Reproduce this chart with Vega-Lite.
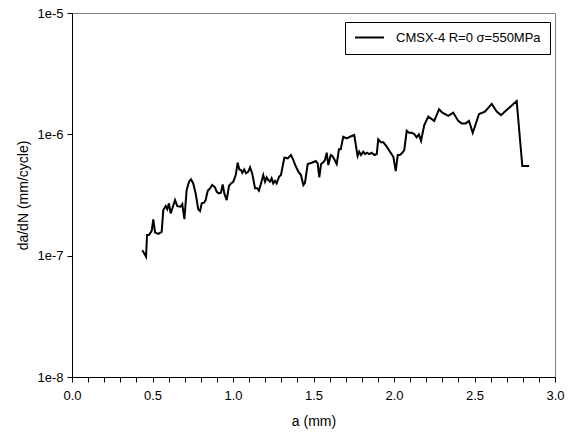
{
  "$schema": "https://vega.github.io/schema/vega-lite/v6.json",
  "autosize": {"type": "none"},
  "width": 483,
  "height": 364,
  "padding": {"left": 72, "top": 13, "right": 15, "bottom": 58},
  "background": "white",
  "config": {
    "font": "Liberation Sans",
    "view": {"stroke": "#808080", "strokeWidth": 1},
    "axis": {"labelFont": "Liberation Sans", "titleFont": "Liberation Sans", "labelColor": "black", "titleColor": "black", "domainColor": "black", "tickColor": "black", "titleFontWeight": "normal", "grid": false}
  },
  "data": {"values": [
    {"a": 0.437, "dadN": 1.11e-7}, {"a": 0.460, "dadN": 9.8e-8}, {"a": 0.466, "dadN": 1.48e-7}, {"a": 0.478, "dadN": 1.48e-7},
    {"a": 0.495, "dadN": 1.60e-7}, {"a": 0.505, "dadN": 1.99e-7}, {"a": 0.516, "dadN": 1.55e-7}, {"a": 0.536, "dadN": 1.51e-7},
    {"a": 0.557, "dadN": 1.57e-7}, {"a": 0.567, "dadN": 2.38e-7}, {"a": 0.582, "dadN": 2.56e-7}, {"a": 0.592, "dadN": 2.41e-7},
    {"a": 0.602, "dadN": 2.70e-7}, {"a": 0.613, "dadN": 2.23e-7}, {"a": 0.623, "dadN": 2.45e-7}, {"a": 0.640, "dadN": 2.87e-7},
    {"a": 0.654, "dadN": 2.56e-7}, {"a": 0.675, "dadN": 2.53e-7}, {"a": 0.685, "dadN": 2.66e-7}, {"a": 0.698, "dadN": 2.00e-7},
    {"a": 0.712, "dadN": 3.47e-7}, {"a": 0.727, "dadN": 4.07e-7}, {"a": 0.739, "dadN": 4.26e-7}, {"a": 0.753, "dadN": 3.94e-7},
    {"a": 0.768, "dadN": 3.26e-7}, {"a": 0.784, "dadN": 2.41e-7}, {"a": 0.795, "dadN": 2.33e-7}, {"a": 0.806, "dadN": 2.70e-7},
    {"a": 0.820, "dadN": 2.73e-7}, {"a": 0.830, "dadN": 2.87e-7}, {"a": 0.843, "dadN": 3.43e-7}, {"a": 0.857, "dadN": 3.59e-7},
    {"a": 0.871, "dadN": 3.82e-7}, {"a": 0.888, "dadN": 3.66e-7}, {"a": 0.899, "dadN": 3.36e-7}, {"a": 0.913, "dadN": 3.26e-7},
    {"a": 0.925, "dadN": 3.30e-7}, {"a": 0.936, "dadN": 3.87e-7}, {"a": 0.946, "dadN": 3.26e-7}, {"a": 0.961, "dadN": 2.87e-7},
    {"a": 0.975, "dadN": 3.75e-7}, {"a": 0.988, "dadN": 3.94e-7}, {"a": 1.002, "dadN": 4.07e-7}, {"a": 1.017, "dadN": 4.62e-7},
    {"a": 1.029, "dadN": 5.83e-7}, {"a": 1.039, "dadN": 5.14e-7}, {"a": 1.050, "dadN": 5.08e-7}, {"a": 1.058, "dadN": 4.82e-7},
    {"a": 1.070, "dadN": 5.14e-7}, {"a": 1.081, "dadN": 4.77e-7}, {"a": 1.095, "dadN": 4.92e-7}, {"a": 1.106, "dadN": 5.35e-7},
    {"a": 1.120, "dadN": 4.71e-7}, {"a": 1.137, "dadN": 3.59e-7}, {"a": 1.151, "dadN": 3.59e-7}, {"a": 1.161, "dadN": 3.43e-7},
    {"a": 1.174, "dadN": 3.94e-7}, {"a": 1.188, "dadN": 4.62e-7}, {"a": 1.199, "dadN": 4.07e-7}, {"a": 1.209, "dadN": 4.42e-7},
    {"a": 1.219, "dadN": 4.20e-7}, {"a": 1.230, "dadN": 4.07e-7}, {"a": 1.240, "dadN": 4.34e-7}, {"a": 1.250, "dadN": 3.94e-7},
    {"a": 1.261, "dadN": 4.14e-7}, {"a": 1.271, "dadN": 3.94e-7}, {"a": 1.286, "dadN": 4.47e-7}, {"a": 1.298, "dadN": 4.62e-7},
    {"a": 1.319, "dadN": 6.41e-7}, {"a": 1.340, "dadN": 6.34e-7}, {"a": 1.360, "dadN": 6.75e-7}, {"a": 1.375, "dadN": 6.14e-7},
    {"a": 1.389, "dadN": 5.48e-7}, {"a": 1.406, "dadN": 4.92e-7}, {"a": 1.422, "dadN": 4.62e-7}, {"a": 1.437, "dadN": 3.82e-7},
    {"a": 1.447, "dadN": 3.99e-7}, {"a": 1.464, "dadN": 5.69e-7}, {"a": 1.489, "dadN": 5.83e-7}, {"a": 1.514, "dadN": 6.03e-7},
    {"a": 1.526, "dadN": 5.77e-7}, {"a": 1.536, "dadN": 4.42e-7}, {"a": 1.547, "dadN": 5.69e-7}, {"a": 1.561, "dadN": 5.88e-7},
    {"a": 1.571, "dadN": 6.14e-7}, {"a": 1.582, "dadN": 7.05e-7}, {"a": 1.592, "dadN": 5.58e-7}, {"a": 1.607, "dadN": 6.75e-7},
    {"a": 1.617, "dadN": 6.62e-7}, {"a": 1.629, "dadN": 6.22e-7}, {"a": 1.644, "dadN": 5.69e-7}, {"a": 1.658, "dadN": 7.52e-7},
    {"a": 1.669, "dadN": 7.52e-7}, {"a": 1.685, "dadN": 9.55e-7}, {"a": 1.706, "dadN": 9.27e-7}, {"a": 1.727, "dadN": 9.55e-7},
    {"a": 1.753, "dadN": 9.87e-7}, {"a": 1.774, "dadN": 6.62e-7}, {"a": 1.784, "dadN": 7.19e-7}, {"a": 1.795, "dadN": 6.75e-7},
    {"a": 1.809, "dadN": 7.19e-7}, {"a": 1.820, "dadN": 6.88e-7}, {"a": 1.832, "dadN": 7.05e-7}, {"a": 1.845, "dadN": 6.88e-7},
    {"a": 1.861, "dadN": 7.05e-7}, {"a": 1.878, "dadN": 6.75e-7}, {"a": 1.893, "dadN": 6.88e-7}, {"a": 1.902, "dadN": 9.10e-7},
    {"a": 1.919, "dadN": 8.59e-7}, {"a": 1.934, "dadN": 8.59e-7}, {"a": 1.955, "dadN": 7.91e-7}, {"a": 1.975, "dadN": 7.19e-7},
    {"a": 1.996, "dadN": 6.53e-7}, {"a": 2.011, "dadN": 4.98e-7}, {"a": 2.023, "dadN": 6.75e-7}, {"a": 2.037, "dadN": 6.75e-7},
    {"a": 2.052, "dadN": 7.05e-7}, {"a": 2.064, "dadN": 7.43e-7}, {"a": 2.079, "dadN": 1.07e-6}, {"a": 2.093, "dadN": 1.03e-6},
    {"a": 2.110, "dadN": 1.03e-6}, {"a": 2.126, "dadN": 1.005e-6}, {"a": 2.141, "dadN": 9.44e-7}, {"a": 2.155, "dadN": 1.00e-6},
    {"a": 2.168, "dadN": 8.85e-7}, {"a": 2.188, "dadN": 1.19e-6}, {"a": 2.213, "dadN": 1.40e-6}, {"a": 2.250, "dadN": 1.29e-6},
    {"a": 2.280, "dadN": 1.61e-6}, {"a": 2.300, "dadN": 1.51e-6}, {"a": 2.337, "dadN": 1.42e-6}, {"a": 2.368, "dadN": 1.51e-6},
    {"a": 2.399, "dadN": 1.29e-6}, {"a": 2.420, "dadN": 1.23e-6}, {"a": 2.445, "dadN": 1.23e-6}, {"a": 2.466, "dadN": 1.29e-6},
    {"a": 2.489, "dadN": 1.03e-6}, {"a": 2.509, "dadN": 1.23e-6}, {"a": 2.528, "dadN": 1.47e-6}, {"a": 2.565, "dadN": 1.54e-6},
    {"a": 2.607, "dadN": 1.78e-6}, {"a": 2.638, "dadN": 1.54e-6}, {"a": 2.665, "dadN": 1.44e-6}, {"a": 2.689, "dadN": 1.54e-6},
    {"a": 2.762, "dadN": 1.88e-6}, {"a": 2.797, "dadN": 5.48e-7}, {"a": 2.839, "dadN": 5.48e-7}
  ]},
  "mark": {"type": "line", "strokeWidth": 2, "strokeJoin": "miter", "clip": true},
  "encoding": {
    "x": {
      "field": "a", "type": "quantitative",
      "scale": {"domain": [0, 3], "nice": false, "zero": false},
      "axis": {
        "title": "a (mm)", "titleFontSize": 14, "titlePadding": 12,
        "values": [0, 0.1, 0.2, 0.3, 0.4, 0.5, 0.6, 0.7, 0.8, 0.9, 1.0, 1.1, 1.2, 1.3, 1.4, 1.5, 1.6, 1.7, 1.8, 1.9, 2.0, 2.1, 2.2, 2.3, 2.4, 2.5, 2.6, 2.7, 2.8, 2.9, 3.0],
        "labelExpr": "abs(round(datum.value*10) % 5) == 0 ? format(datum.value, '.1f') : ''",
        "labelFontSize": 13, "labelPadding": 7, "tickSize": 5, "labelFlush": false, "labelOverlap": false
      }
    },
    "y": {
      "field": "dadN", "type": "quantitative",
      "scale": {"type": "log", "domain": [1e-8, 1e-5], "nice": false},
      "axis": {
        "title": "da/dN (mm/cycle)", "titleFontSize": 14, "titlePadding": 6,
        "values": [1e-8, 1e-7, 1e-6, 1e-5],
        "labelExpr": "format(datum.value, '.0e')",
        "labelFontSize": 13, "labelPadding": 4, "tickSize": 5
      }
    },
    "color": {
      "datum": "CMSX-4 R=0 σ=550MPa", "type": "nominal",
      "scale": {"range": ["black"]},
      "legend": {
        "title": null, "orient": "none", "legendX": 273, "legendY": 9,
        "strokeColor": "black", "padding": 9, "fillColor": "white",
        "symbolType": "stroke", "symbolSize": 841, "symbolStrokeWidth": 2, "symbolStrokeColor": "black",
        "clipHeight": 13,
        "labelFontSize": 13, "labelFont": "Liberation Sans", "labelColor": "black", "labelOffset": 11
      }
    }
  }
}
